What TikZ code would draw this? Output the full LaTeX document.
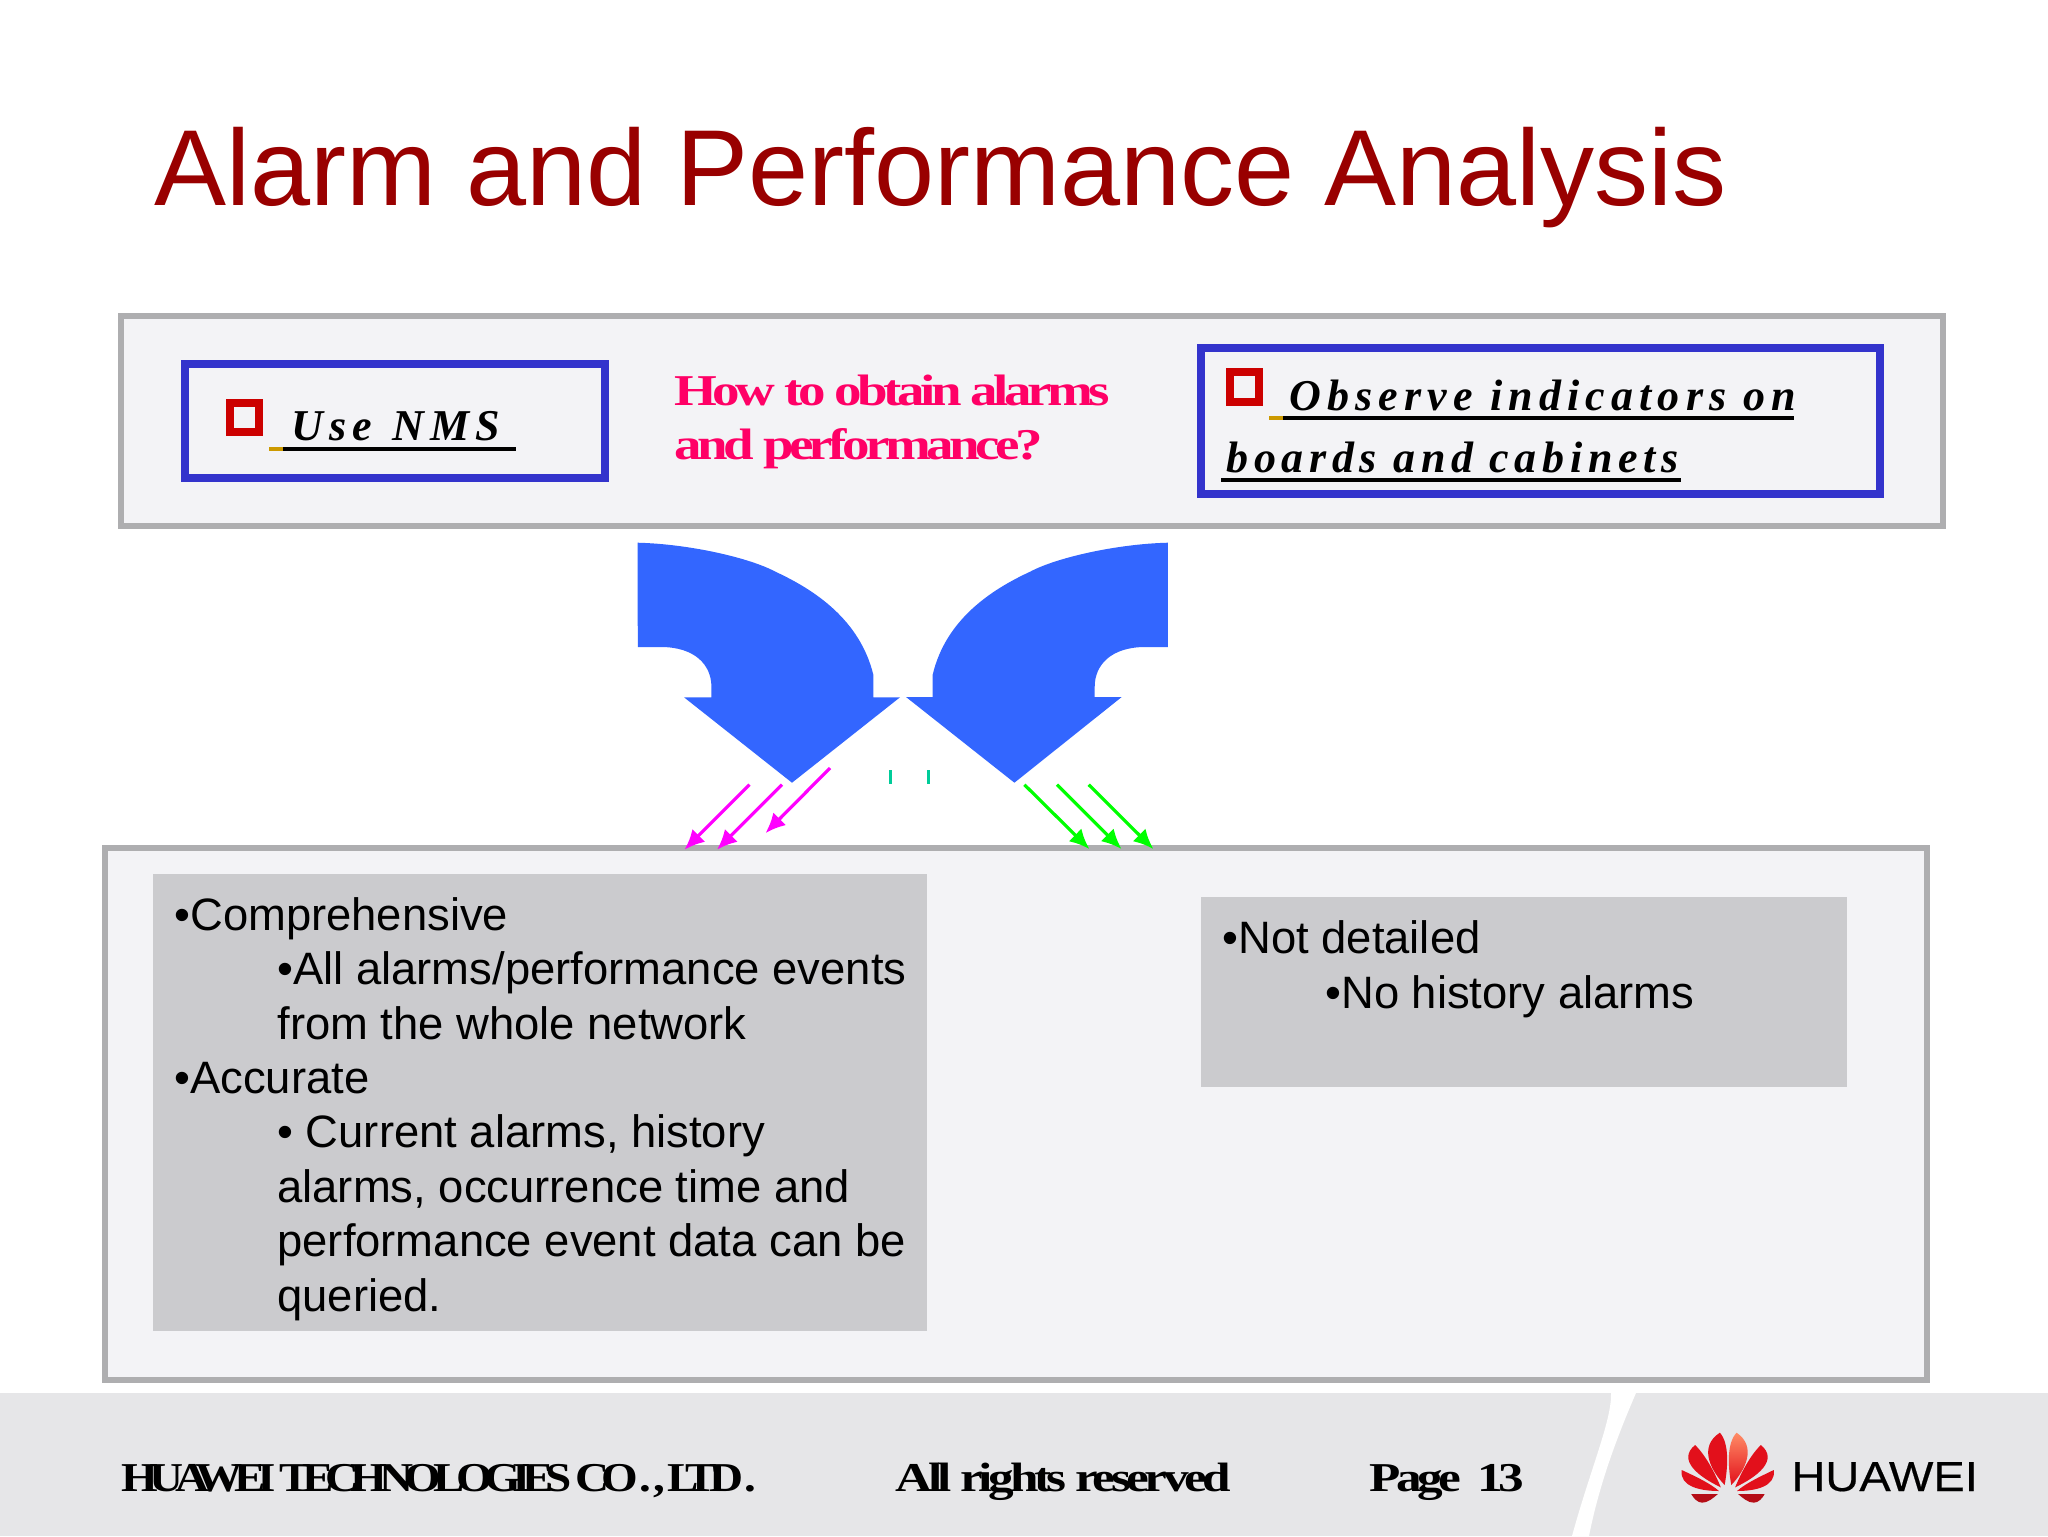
\documentclass[tikz,border=0pt]{standalone}
\usepackage{fontspec}
\usetikzlibrary{arrows.meta}
\setmainfont{Liberation Sans}
\newfontfamily\didotco[FakeStretch=1.15,LetterSpace=-20.5]{Liberation Serif}
\newfontfamily\didotf[FakeStretch=1.25,LetterSpace=-10.7]{Liberation Serif}
\newfontfamily\didotg[FakeStretch=1.25,LetterSpace=-10.4]{Liberation Serif}
\newfontfamily\blackf[LetterSpace=14]{Liberation Serif}
\newfontfamily\blackh[LetterSpace=12.8]{Liberation Serif}
\newfontfamily\logof[FakeStretch=1.12,FakeBold=0.4]{Liberation Sans}
\newcommand\ind{\hspace*{51.5pt}}
\definecolor{panel}{HTML}{F3F3F6}
\definecolor{edge}{HTML}{AEAEB0}
\definecolor{bluebox}{HTML}{3333CC}
\definecolor{redsq}{HTML}{CC0000}
\definecolor{gold}{HTML}{CC9900}
\definecolor{pinktxt}{HTML}{FF0066}
\definecolor{bigarrow}{HTML}{3366FF}
\definecolor{magarrow}{HTML}{FF00FF}
\definecolor{greenarrow}{HTML}{00FF00}
\definecolor{tick}{HTML}{00CC99}
\definecolor{greybox}{HTML}{CBCBCE}
\definecolor{footer}{HTML}{E6E6E8}
\definecolor{titlec}{HTML}{990000}
\definecolor{petal}{HTML}{E2101B}
\tikzset{
  panelbox/.style={draw=edge,line width=2.8pt,fill=panel},
  framebox/.style={draw=bluebox,line width=4pt,fill=panel},
  redbox/.style={draw=redsq,line width=3.7pt,fill=panel},
  greyrect/.style={fill=greybox},
  ruleblack/.style={draw=black,line width=2pt},
  rulegold/.style={draw=gold,line width=2pt},
  blockarrow/.style={fill=bigarrow},
  thinarrow/.style={line width=1.6pt,-{Latex[length=10pt,width=9pt]},shorten >=-1pt},
  lbl/.style={inner sep=0pt,anchor=base west},
  blackl/.style={lbl,font=\fontsize{22}{24}\selectfont\blackf\bfseries\itshape},
  blackm/.style={lbl,font=\fontsize{22}{24}\selectfont\blackh\bfseries\itshape},
  footco/.style={lbl,font=\fontsize{20.5}{24}\selectfont\bfseries\didotco},
  foot/.style={lbl,font=\fontsize{20.5}{24}\selectfont\bfseries\didotf},
  pinkl/.style={lbl,text=pinktxt,font=\fontsize{22}{27}\selectfont\bfseries\didotg},
  body/.style={lbl,align=left,font=\fontsize{22.7}{27.2}\selectfont},
}
\begin{document}
\begin{tikzpicture}[x=0.5pt,y=-0.5pt]
\useasboundingbox (0,0) rectangle (2048,1536);
\fill[white] (0,0) rectangle (2048,1536);
% title
\node[lbl,text=titlec,font=\fontsize{54}{60}\selectfont] (title) at (154,205) {Alarm and Performance Analysis};
% top panel
\draw[panelbox] (121,316) rectangle (1943,526);
\draw[framebox] (185,364) rectangle (605,478);
\draw[redbox] (230,403) rectangle (259,432);
\node[blackl] (use) at (291,440) {Use\hspace{10pt}NMS};
\draw[ruleblack] (283,449) -- (516,449);
\draw[rulegold] (269,449) -- (283,449);
\node[pinkl] (q1) at (674,405) {How to obtain alarms};
\node[pinkl] (q2) at (674,459) {and performance?};
\draw[framebox] (1201,348) rectangle (1880,494);
\draw[redbox] (1230,372) rectangle (1259,402);
\node[blackl] (obs1) at (1289,410) {Observe indicators on};
\draw[ruleblack] (1283,418) -- (1794,418);
\draw[rulegold] (1269,418) -- (1283,418);
\node[blackm] (obs2) at (1226,472) {boards and cabinets};
\draw[ruleblack] (1221,480) -- (1681,480);
% block arrows
\fill[blockarrow] (637.5,542.7) .. controls (690,544) and (750,558) .. (775.4,571.7)
  .. controls (815,590) and (860,620) .. (873.4,675)
  -- (873.4,697.3) -- (900,697.3) -- (792,782.7) -- (684,697.3) -- (711.4,697.3) -- (711.4,686.7)
  .. controls (711.4,665) and (695,647) .. (660.7,647) -- (637.8,647) -- cycle;
\fill[blockarrow] (1167.9,542.7) .. controls (1115.5,544) and (1055.5,558) .. (1030.1,571.7)
  .. controls (990.5,590) and (945.5,620) .. (932.6,675)
  -- (932.6,697) -- (906,697) -- (1014.4,782.7) -- (1121.7,697) -- (1094.7,697) -- (1094.7,686.7)
  .. controls (1094.7,665) and (1111,647) .. (1145.3,647) -- (1167.9,647) -- cycle;
% ticks
\draw[tick,line width=1.1pt] (890.4,770) -- (890.4,784);
\draw[tick,line width=1.1pt] (928.5,770) -- (928.5,784);
% bottom panel
\draw[panelbox] (105,848) rectangle (1927,1380);
\fill[greyrect] (153,874) rectangle (927,1331);
\fill[greyrect] (1201,897) rectangle (1847,1087);
% thin arrows
\coordinate (ma1) at (749.5,784.7); \coordinate (mb1) at (685.9,848.3);
\coordinate (ma2) at (782,784.7);   \coordinate (mb2) at (718.4,848.3);
\coordinate (ma3) at (830,768);     \coordinate (mb3) at (766.9,831.7);
\coordinate (ga1) at (1024.4,784.7);\coordinate (gb1) at (1088,847.7);
\coordinate (ga2) at (1057,784.7);  \coordinate (gb2) at (1120.2,847.7);
\coordinate (ga3) at (1088.7,784.7);\coordinate (gb3) at (1152,847.7);
\draw[thinarrow,magarrow] (ma1) -- (mb1);
\draw[thinarrow,magarrow] (ma2) -- (mb2);
\draw[thinarrow,magarrow] (ma3) -- (mb3);
\draw[thinarrow,greenarrow] (ga1) -- (gb1);
\draw[thinarrow,greenarrow] (ga2) -- (gb2);
\draw[thinarrow,greenarrow] (ga3) -- (gb3);
% body text (the node's base is its last line)
\node[body] (left) at (174,1311) {•Comprehensive\\
\ind•All alarms/performance events\\
\ind from the whole network\\
•Accurate\\
\ind• Current alarms, history\\
\ind alarms, occurrence time and\\
\ind performance event data can be\\
\ind queried.};
\node[body] (right) at (1222,1008) {•Not detailed\\
\ind•No history alarms};
% footer
\fill[footer] (0,1393) rectangle (2048,1536);
\fill[white] (1611,1393) .. controls (1612,1420) and (1590,1470) .. (1572,1536) -- (1589,1536) .. controls (1600,1480) and (1620,1430) .. (1636,1393) -- cycle;
\node[footco] (co) at (121,1491) {HUAWEI TECHNOLOGIES CO\hspace{1pt}.\hspace{1pt},\hspace{1pt}LTD\hspace{0.5pt}.};
\node[foot] (rights) at (895,1491) {All rights reserved};
\node[foot] (page) at (1369,1491) {Page\hspace{8pt}13};
\node[lbl,font=\fontsize{21}{24}\selectfont\logof] (hw) at (1791,1491) {HUAWEI};
% logo petals (coordinates as in a 2.096 x 3 enlargement of the footer corner)
\begin{scope}[shift={(1300,1380)},xscale=0.4771,yscale=0.3333]
\fill[petal] (890,315) .. controls (860,270) and (835,200) .. (880,158) .. controls (900,190) and (897,260) .. (890,315) -- cycle;
\shade[top color=orange!50!red!60,bottom color=petal] (904,315) .. controls (897,260) and (894,190) .. (915,158) .. controls (958,200) and (934,270) .. (904,315) -- cycle;
\fill[petal] (882,322) .. controls (835,290) and (790,240) .. (828,195) .. controls (850,225) and (870,280) .. (882,322) -- cycle;
\fill[petal] (912,322) .. controls (924,280) and (944,225) .. (966,195) .. controls (1004,240) and (959,290) .. (912,322) -- cycle;
\fill[petal] (878,333) .. controls (840,333) and (795,320) .. (800,270) .. controls (830,290) and (860,310) .. (878,333) -- cycle;
\fill[petal] (916,333) .. controls (934,310) and (964,290) .. (993,270) .. controls (998,320) and (954,333) .. (916,333) -- cycle;
\fill[petal!80!black] (820,342) -- (876,342) .. controls (865,355) and (855,368) .. (843,368) .. controls (833,368) and (825,355) .. (820,342) -- cycle;
\fill[petal!80!black] (974,342) -- (918,342) .. controls (929,355) and (939,368) .. (951,368) .. controls (961,368) and (969,355) .. (974,342) -- cycle;
\end{scope}
\end{tikzpicture}
\end{document}
